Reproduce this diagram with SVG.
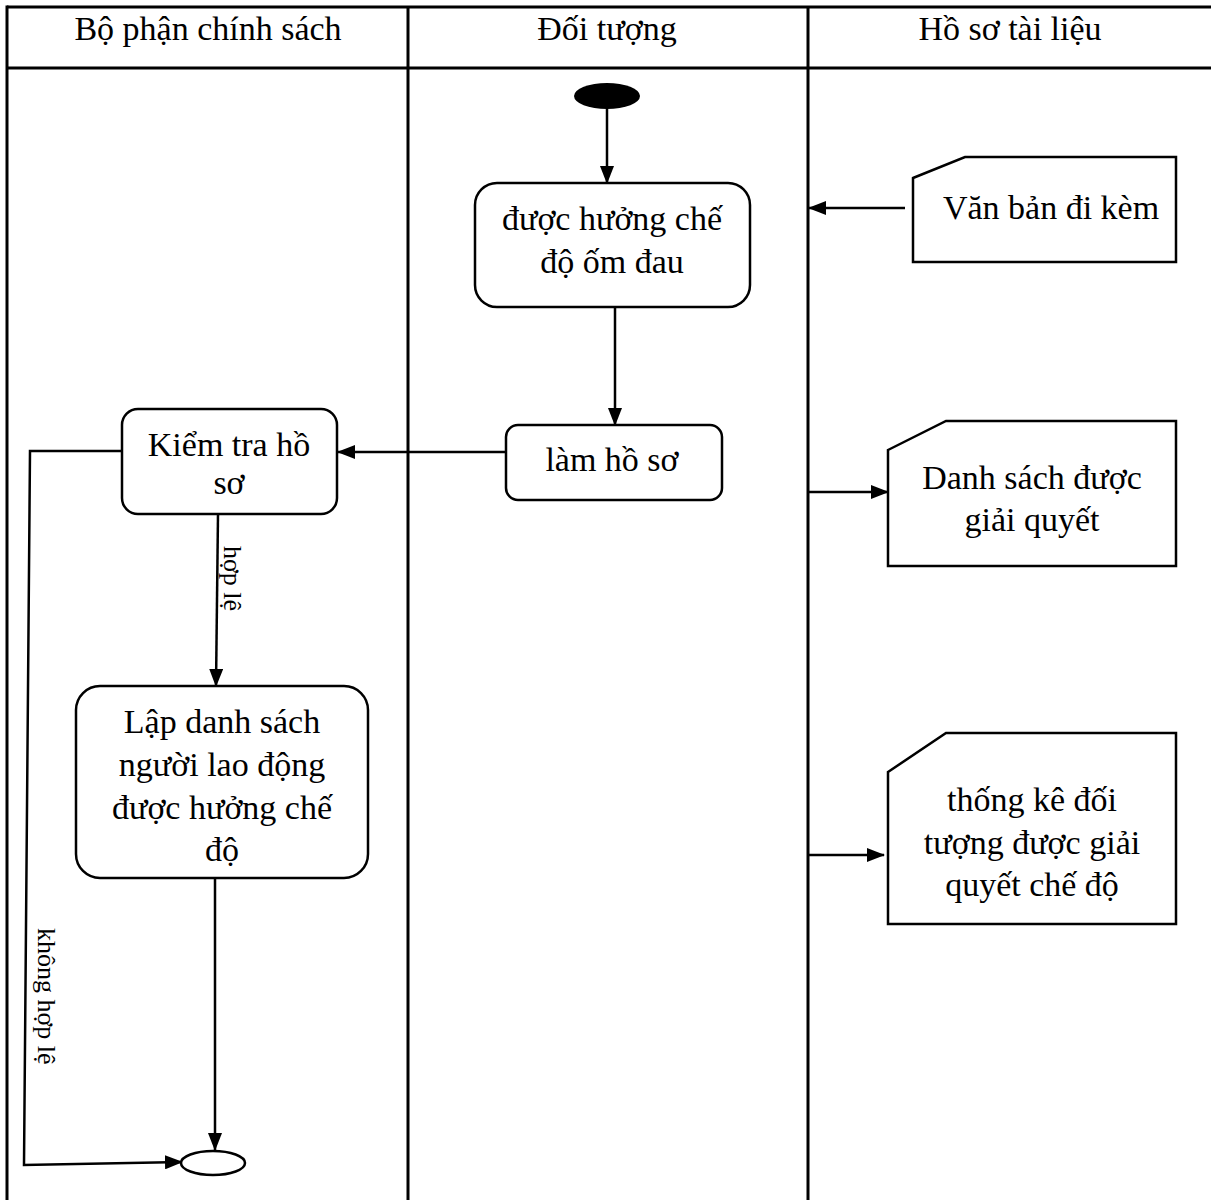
<svg xmlns="http://www.w3.org/2000/svg" width="1211" height="1200" viewBox="0 0 1211 1200">
  <defs>
    <marker id="arrow" markerWidth="18" markerHeight="14" refX="17" refY="7" orient="auto" markerUnits="userSpaceOnUse" viewBox="0 0 18 14">
      <path d="M0,0 L18,7 L0,14 Z" fill="#000"/>
    </marker>
    <style>
      .grid { stroke: #000; stroke-width: 3; fill: none; }
      .node { fill: #fff; stroke: #000; stroke-width: 2.5; }
      .doc { fill: #fff; stroke: #000; stroke-width: 2.5; }
      .edge-arrow { stroke: #000; stroke-width: 2.5; fill: none; marker-end: url(#arrow); }
      text { font-family: "Liberation Serif", "Times New Roman", serif; fill: #000; }
      .hdr { font-size: 34px; text-anchor: middle; }
      .lbl { font-size: 34px; text-anchor: middle; }
      .small { font-size: 26px; }
    </style>
  </defs>
  <rect width="1211" height="1200" fill="#fff"/>

  <!-- swimlane table -->
  <g id="lanes">
    <line class="grid" x1="7" y1="7" x2="1211" y2="7"/>
    <line class="grid" x1="7" y1="68" x2="1211" y2="68"/>
    <line class="grid" x1="7" y1="5.5" x2="7" y2="1200"/>
    <line class="grid" x1="408" y1="7" x2="408" y2="1200"/>
    <line class="grid" x1="808" y1="7" x2="808" y2="1200"/>
    <text class="hdr" x="208" y="40">Bộ phận chính sách</text>
    <text class="hdr" x="607" y="40">Đối tượng</text>
    <text class="hdr" x="1010" y="40">Hồ sơ tài liệu</text>
  </g>

  <!-- connectors -->
  <g id="connectors">
    <line class="edge-arrow" x1="607" y1="108" x2="607" y2="183"/>
    <line class="edge-arrow" x1="615" y1="307" x2="615" y2="425"/>
    <line class="edge-arrow" x1="506" y1="452" x2="338" y2="452"/>
    <line class="edge-arrow" x1="218" y1="514" x2="216" y2="686"/>
    <line class="edge-arrow" x1="215" y1="878" x2="215" y2="1150"/>
    <polyline class="edge-arrow" points="122,451 30,451 24,1165 182,1162"/>
    <line class="edge-arrow" x1="905" y1="208" x2="809" y2="208"/>
    <line class="edge-arrow" x1="808" y1="492" x2="888" y2="492"/>
    <line class="edge-arrow" x1="808" y1="855" x2="884" y2="855"/>
    <text class="small" transform="translate(224,546) rotate(90)">hợp lệ</text>
    <text class="small" transform="translate(38,928) rotate(90)">không hợp lệ</text>
  </g>

  <g id="start">
    <ellipse cx="607" cy="96" rx="33" ry="13" fill="#000"/>
  </g>

  <g id="n-huong-che-do">
    <rect class="node" x="475" y="183" width="275" height="124" rx="22"/>
    <text class="lbl" x="612" y="230">được hưởng chế</text>
    <text class="lbl" x="612" y="273">độ ốm đau</text>
  </g>

  <g id="n-lam-ho-so">
    <rect class="node" x="506" y="425" width="216" height="75" rx="12"/>
    <text class="lbl" x="612" y="471">làm hồ sơ</text>
  </g>

  <g id="n-kiem-tra">
    <rect class="node" x="122" y="409" width="215" height="105" rx="16"/>
    <text class="lbl" x="229" y="456">Kiểm tra hồ</text>
    <text class="lbl" x="229" y="494">sơ</text>
  </g>

  <g id="n-lap-danh-sach">
    <rect class="node" x="76" y="686" width="292" height="192" rx="24"/>
    <text class="lbl" x="222" y="733">Lập danh sách</text>
    <text class="lbl" x="222" y="776">người lao động</text>
    <text class="lbl" x="222" y="819">được hưởng chế</text>
    <text class="lbl" x="222" y="861">độ</text>
  </g>

  <g id="end">
    <ellipse class="node" cx="213" cy="1163" rx="32" ry="12"/>
  </g>

  <g id="doc-van-ban">
    <path class="doc" d="M913,178 L965,157 L1176,157 L1176,262 L913,262 Z"/>
    <text class="lbl" x="1051" y="219">Văn bản đi kèm</text>
  </g>

  <g id="doc-danh-sach">
    <path class="doc" d="M888,450 L946,421 L1176,421 L1176,566 L888,566 Z"/>
    <text class="lbl" x="1032" y="489">Danh sách được</text>
    <text class="lbl" x="1032" y="531">giải quyết</text>
  </g>

  <g id="doc-thong-ke">
    <path class="doc" d="M888,772 L946,733 L1176,733 L1176,924 L888,924 Z"/>
    <text class="lbl" x="1032" y="811">thống kê đối</text>
    <text class="lbl" x="1032" y="854">tượng được giải</text>
    <text class="lbl" x="1032" y="896">quyết chế độ</text>
  </g>
</svg>
